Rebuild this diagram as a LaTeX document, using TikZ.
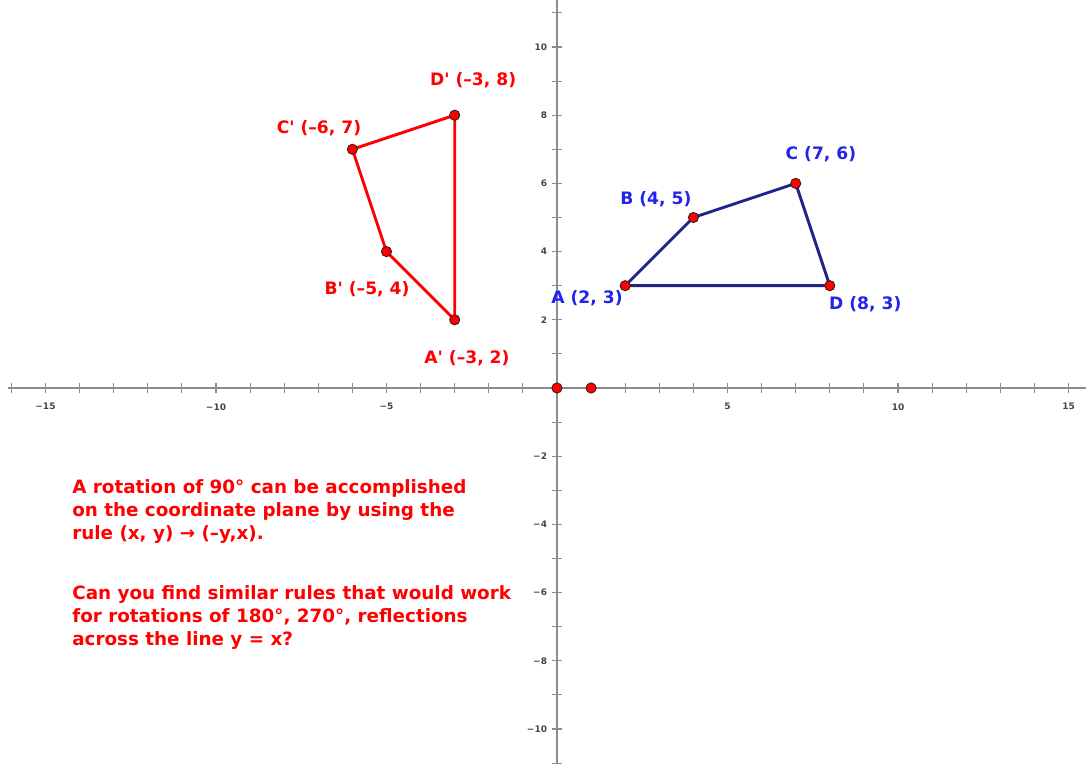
\documentclass[tikz,border=0pt]{standalone}
\usepackage{fontspec}
\setmainfont{DejaVu Sans}
\definecolor{axisgray}{RGB}{140,140,140}
\definecolor{ticktext}{RGB}{70,70,70}
\definecolor{imgred}{RGB}{255,0,0}
\definecolor{navy}{RGB}{35,35,135}
\definecolor{labblue}{RGB}{35,35,235}
\definecolor{dotedge}{RGB}{50,30,30}
\newcommand{\ap}{\XeTeXglyph\XeTeXcharglyph"0027\relax}
\tikzset{
  axisline/.style={axisgray, line width=1.3pt},
  tickmark/.style={axisgray, line width=0.9pt},
  ticklab/.style={font=\fontsize{7.5}{8}\selectfont\bfseries, text=ticktext, inner sep=1pt},
  redlab/.style={font=\fontsize{14.3}{16}\selectfont\bfseries, text=imgred, inner sep=0pt},
  bluelab/.style={font=\fontsize{14.3}{16}\selectfont\bfseries, text=labblue, inner sep=0pt},
  redpoly/.style={imgred, line width=2.4pt, line join=round},
  bluepoly/.style={navy, line width=2.4pt, line join=round},
  ptdot/.style={circle, fill=imgred, draw=dotedge, line width=0.7pt, minimum size=0.3cm, inner sep=0pt},
  bodyline/.style={font=\fontsize{15.3}{19}\selectfont\bfseries, text=imgred, inner sep=0pt, anchor=base west}
}
\begin{document}
\begin{tikzpicture}[x=1cm,y=1cm]
\useasboundingbox[fill=white] (-16.334,-11.026) rectangle (15.513,11.378);
% axes
\draw[axisline] (-16.1,0) -- (15.513,0);
\draw[axisline] (0,-11.026) -- (0,11.378);
\foreach \i in {-16,...,15} {
  \ifnum\i=0\relax\else
    \draw[tickmark] (\i,-0.15) -- (\i,0.15);
  \fi
}
\foreach \j in {-11,...,11} {
  \ifnum\j=0\relax\else
    \draw[tickmark] (-0.15,\j) -- (0.15,\j);
  \fi
}
\foreach \i/\t in {-15/{−15},-10/{−10},-5/{−5},5/5,10/10,15/15} {
  \node[ticklab] (xl\i) at (\i,-0.55) {\t};
}
\foreach \j/\t in {10/10,8/8,6/6,4/4,2/2,-2/{−2},-4/{−4},-6/{−6},-8/{−8},-10/{−10}} {
  \node[ticklab, anchor=east] (yl\j) at (-0.25,\j) {\t};
}
% points
\coordinate (Ap) at (-3,2);
\coordinate (Bp) at (-5,4);
\coordinate (Cp) at (-6,7);
\coordinate (Dp) at (-3,8);
\coordinate (A) at (2,3);
\coordinate (B) at (4,5);
\coordinate (C) at (7,6);
\coordinate (D) at (8,3);
\draw[redpoly] (Ap) -- (Bp) -- (Cp) -- (Dp) -- cycle;
\draw[bluepoly] (A) -- (B) -- (C) -- (D) -- cycle;
\foreach \p in {Ap,Bp,Cp,Dp,A,B,C,D} {
  \node[ptdot] (dot\p) at (\p) {};
}
\node[ptdot] (O) at (0,0) {};
\node[ptdot] (E) at (1,0) {};
% labels
\node[redlab] (lDp) at (-2.46,9.03) {D\ap{} (–3, 8)};
\node[redlab] (lCp) at (-6.98,7.62) {C\ap{} (–6, 7)};
\node[redlab] (lBp) at (-5.57,2.90) {B\ap{} (–5, 4)};
\node[redlab] (lAp) at (-2.64,0.88) {A\ap{} (–3, 2)};
\node[bluelab] (lB) at (2.90,5.54) {B (4, 5)};
\node[bluelab] (lC) at (7.74,6.86) {C (7, 6)};
\node[bluelab] (lA) at (0.88,2.64) {A (2, 3)};
\node[bluelab] (lD) at (9.04,2.46) {D (8, 3)};
% text
\node[bodyline] (t1a) at (-14.22,-3.08) {A rotation of 90° can be accomplished};
\node[bodyline] (t1b) at (-14.22,-3.76) {on the coordinate plane by using the};
\node[bodyline] (t1c) at (-14.22,-4.44) {rule (x, y) → (–y,x).};
\node[bodyline] (t2a) at (-14.22,-6.19) {Can you find similar rules that would work};
\node[bodyline] (t2b) at (-14.22,-6.87) {for rotations of 180°, 270°, reflections};
\node[bodyline] (t2c) at (-14.22,-7.55) {across the line y = x?};
\end{tikzpicture}
\end{document}
